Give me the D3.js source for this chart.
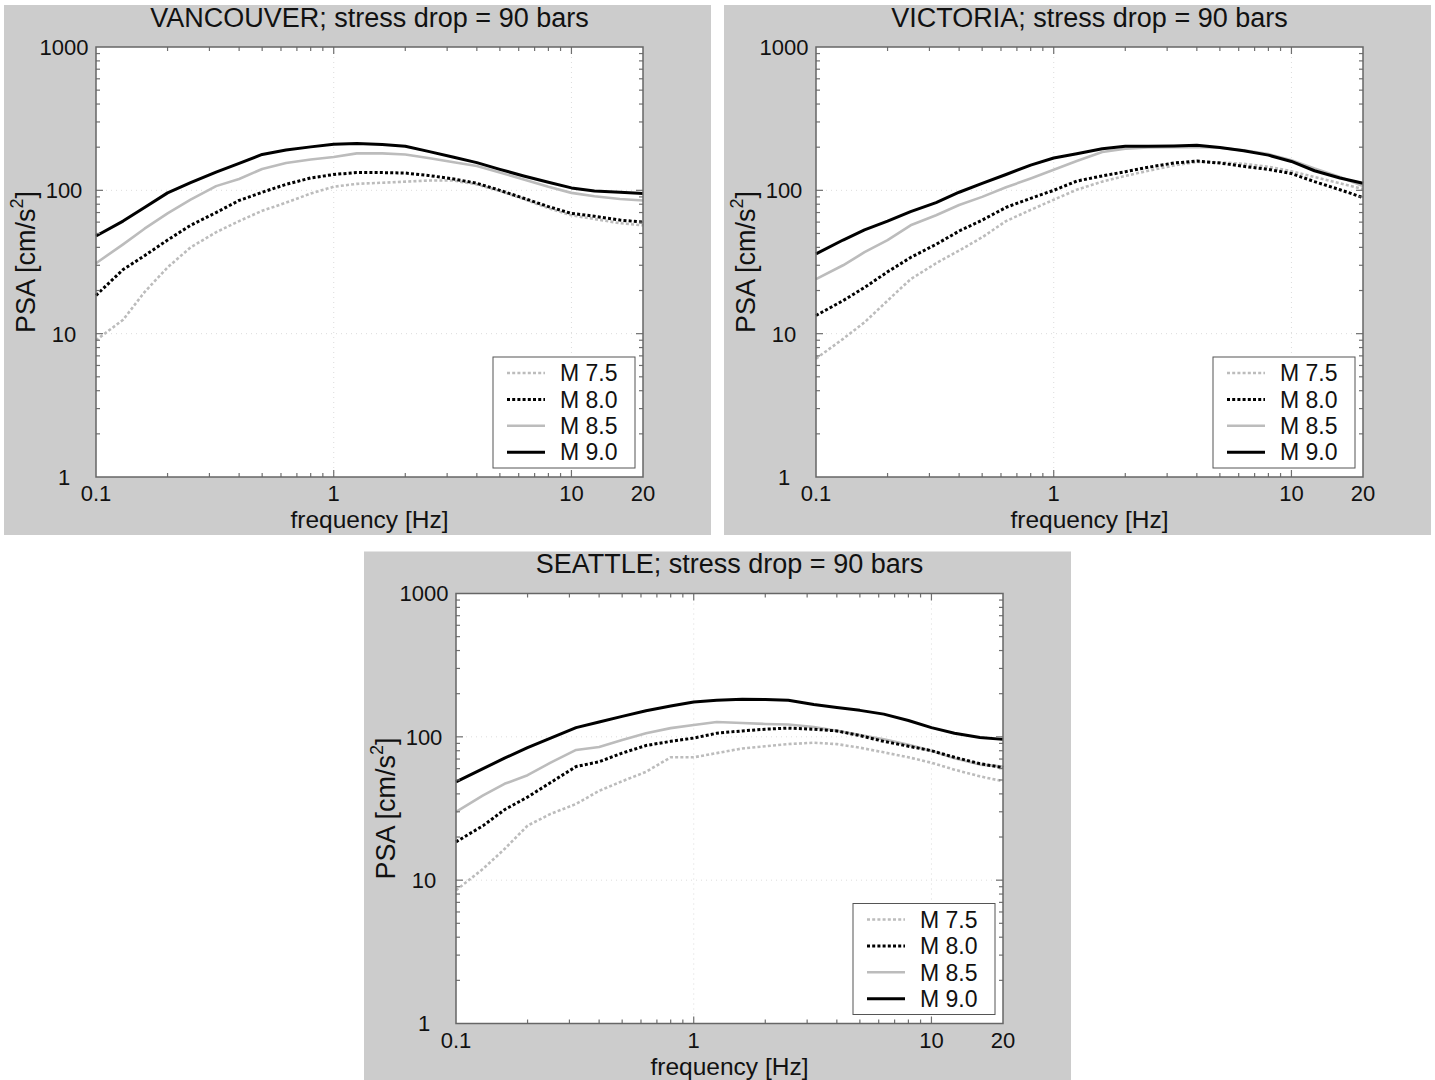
<!DOCTYPE html>
<html><head><meta charset="utf-8">
<script src="https://cdn.jsdelivr.net/npm/d3@7"></script>
<style>
html,body{margin:0;padding:0;background:#fff;}
svg{display:block;font-family:"Liberation Sans",Arial,Helvetica,sans-serif;}
</style></head><body>
<svg id="chart" width="1435" height="1080"></svg>
<script>
// Frequencies (Hz) at which the PSA spectra are sampled
const FREQ = [0.1, 0.13, 0.16, 0.2, 0.25, 0.32, 0.4, 0.5, 0.63, 0.8, 1, 1.25, 1.6, 2, 2.5, 3.2, 4, 5, 6.3, 8, 10, 12.5, 16, 20];

// PSA [cm/s^2] per station and magnitude
const vancouverM75 = [9.0, 12.5, 19.5, 29, 40, 51, 61, 72, 82, 95, 106, 111, 113, 115, 117, 117, 110, 99, 87, 75, 67, 63, 59, 57];
const vancouverM80 = [18.5, 28, 35, 45, 57, 70, 85, 97, 110, 122, 129, 133, 133, 132, 127, 120, 112, 100, 88, 77, 69, 66, 62, 60];
const vancouverM85 = [31, 42, 54, 69, 86, 107, 120, 141, 155, 164, 171, 181, 181, 178, 168, 157, 148, 133, 119, 106, 96, 91, 87, 85];
const vancouverM90 = [48, 61, 76, 96, 113, 134, 154, 178, 191, 201, 210, 212, 209, 203, 187, 170, 156, 140, 126, 114, 104, 99, 97, 95];

const victoriaM75 = [6.7, 9.2, 12, 17, 24, 31, 38, 47, 61, 73, 86, 101, 115, 126, 137, 149, 158, 157, 153, 146, 136, 124, 112, 102];
const victoriaM80 = [13.4, 17, 21, 27, 34, 42, 52, 62, 76, 88, 100, 116, 126, 135, 145, 155, 160, 155, 147, 140, 131, 115, 101, 89];
const victoriaM85 = [24, 30, 37, 45, 57, 67, 79, 90, 105, 121, 139, 160, 185, 195, 199, 200, 201, 198, 190, 179, 162, 142, 124, 107];
const victoriaM90 = [36, 45, 53, 61, 71, 82, 97, 112, 129, 150, 168, 180, 195, 203, 203, 204, 206, 199, 189, 176, 159, 137, 122, 112];

const seattleM75 = [8.5, 12, 16.5, 24, 29, 34, 42, 49, 57, 72, 72, 77, 83, 86, 89, 91, 89, 84, 78, 72, 66, 59, 53, 49];
const seattleM80 = [18.5, 24, 31, 38, 48, 62, 67, 77, 87, 93, 98, 106, 110, 113, 115, 113, 110, 102, 93, 86, 80, 72, 65, 61];
const seattleM85 = [30, 39, 47, 54, 66, 81, 85, 95, 106, 115, 121, 127, 125, 123, 122, 117, 110, 103, 96, 88, 80, 71, 64, 62];
const seattleM90 = [48.5, 60, 71, 84, 98, 116, 127, 139, 152, 164, 175, 180, 183, 182, 180, 168, 160, 153, 144, 130, 116, 106, 99, 96];

const MAGNITUDES = ["M 7.5", "M 8.0", "M 8.5", "M 9.0"];
const STATIONS = ["VANCOUVER", "VICTORIA", "SEATTLE"];
const STRESS_DROP = 90;
const X_TICKS = [0.1, 1, 10, 20];
const Y_TICKS = [1, 10, 100, 1000];

const seriesByStation = {
  VANCOUVER: [vancouverM75, vancouverM80, vancouverM85, vancouverM90],
  VICTORIA: [victoriaM75, victoriaM80, victoriaM85, victoriaM90],
  SEATTLE: [seattleM75, seattleM80, seattleM85, seattleM90]
};

// Line appearance for each magnitude
const LINE_STYLE = [
  {stroke: "#bcbcbc", width: 2.6, dash: "3,2.2"},
  {stroke: "#000000", width: 3.0, dash: "3,2.2"},
  {stroke: "#bcbcbc", width: 2.6, dash: null},
  {stroke: "#000000", width: 3.0, dash: null}
];
const DRAW_ORDER = [0, 2, 1, 3];

const PANEL_ORIGIN = [[4, 5], [724, 5], [364, 551.5]];
const PANEL_W = 707, PANEL_H = 530;
const M = {left: 92, top: 42};
const PLOT_W = 547, PLOT_H = 430;

const svg = d3.select("#chart");

STATIONS.forEach((station, si) => {
  const [ox, oy] = PANEL_ORIGIN[si];
  const panel = svg.append("g").attr("transform", `translate(${ox},${oy})`);

  panel.append("rect").attr("width", PANEL_W).attr("height", PANEL_H).attr("fill", "#cccccc");

  panel.append("text")
    .attr("x", M.left + PLOT_W / 2).attr("y", 21.5)
    .attr("text-anchor", "middle").attr("font-size", 27).attr("fill", "#111")
    .text(`${station}; stress drop = ${STRESS_DROP} bars`);

  const g = panel.append("g").attr("transform", `translate(${M.left},${M.top})`);
  const x = d3.scaleLog().domain([0.1, 20]).range([0, PLOT_W]);
  const y = d3.scaleLog().domain([1, 1000]).range([PLOT_H, 0]);

  g.append("rect").attr("width", PLOT_W).attr("height", PLOT_H).attr("fill", "#fff");

  // faint dotted grid at the decades
  const grid = g.append("g").attr("stroke", "#dcdcdc").attr("stroke-width", 1).attr("stroke-dasharray", "1,4");
  [1, 10].forEach(v => grid.append("line").attr("x1", x(v)).attr("x2", x(v)).attr("y1", 0).attr("y2", PLOT_H));
  [10, 100].forEach(v => grid.append("line").attr("x1", 0).attr("x2", PLOT_W).attr("y1", y(v)).attr("y2", y(v)));

  // spectra
  const line = d3.line().x((d, i) => x(FREQ[i])).y(d => y(d));
  DRAW_ORDER.forEach(k => {
    const st = LINE_STYLE[k];
    g.append("path").datum(seriesByStation[station][k])
      .attr("d", line).attr("fill", "none")
      .attr("stroke", st.stroke).attr("stroke-width", st.width)
      .attr("stroke-dasharray", st.dash)
      .attr("stroke-linejoin", "round");
  });

  // inward ticks on all four sides
  const ticks = g.append("g").attr("stroke", "#707070").attr("stroke-width", 1.2);
  const xMinor = [], yMinor = [];
  [0.1, 1, 10].forEach(d => { for (let m = 2; m <= 9; m++) { const v = d * m; if (v < 20) xMinor.push(v); } });
  [1, 10, 100].forEach(d => { for (let m = 2; m <= 9; m++) yMinor.push(d * m); });
  const xMajor = [1, 10], yMajor = [10, 100];
  xMinor.forEach(v => {
    ticks.append("line").attr("x1", x(v)).attr("x2", x(v)).attr("y1", PLOT_H).attr("y2", PLOT_H - 4);
    ticks.append("line").attr("x1", x(v)).attr("x2", x(v)).attr("y1", 0).attr("y2", 4);
  });
  xMajor.forEach(v => {
    ticks.append("line").attr("x1", x(v)).attr("x2", x(v)).attr("y1", PLOT_H).attr("y2", PLOT_H - 7);
    ticks.append("line").attr("x1", x(v)).attr("x2", x(v)).attr("y1", 0).attr("y2", 7);
  });
  yMinor.forEach(v => {
    ticks.append("line").attr("x1", 0).attr("x2", 4).attr("y1", y(v)).attr("y2", y(v));
    ticks.append("line").attr("x1", PLOT_W).attr("x2", PLOT_W - 4).attr("y1", y(v)).attr("y2", y(v));
  });
  yMajor.forEach(v => {
    ticks.append("line").attr("x1", 0).attr("x2", 7).attr("y1", y(v)).attr("y2", y(v));
    ticks.append("line").attr("x1", PLOT_W).attr("x2", PLOT_W - 7).attr("y1", y(v)).attr("y2", y(v));
  });

  g.append("rect").attr("width", PLOT_W).attr("height", PLOT_H)
    .attr("fill", "none").attr("stroke", "#666").attr("stroke-width", 1.5);

  // tick labels
  g.append("g").selectAll("text").data(X_TICKS).join("text")
    .attr("x", d => x(d)).attr("y", PLOT_H + 24)
    .attr("text-anchor", "middle").attr("font-size", 22).attr("fill", "#111")
    .text(d => d);
  g.append("g").selectAll("text").data(Y_TICKS).join("text")
    .attr("x", -32).attr("y", d => y(d)).attr("dy", "0.36em")
    .attr("text-anchor", "middle").attr("font-size", 22).attr("fill", "#111")
    .text(d => d);

  // axis titles
  g.append("text").attr("x", PLOT_W / 2).attr("y", PLOT_H + 51)
    .attr("text-anchor", "middle").attr("font-size", 24.5).attr("fill", "#111")
    .text("frequency [Hz]");
  const yl = g.append("text")
    .attr("transform", `translate(-61,${PLOT_H / 2}) rotate(-90)`)
    .attr("text-anchor", "middle").attr("font-size", 27).attr("fill", "#111");
  yl.append("tspan").text("PSA [cm/s");
  yl.append("tspan").attr("font-size", 18).attr("dy", -12).text("2");
  yl.append("tspan").attr("dy", 12).text("]");

  // legend
  const lg = g.append("g").attr("transform", `translate(${PLOT_W - 150},${PLOT_H - 120})`);
  lg.append("rect").attr("width", 142).attr("height", 111)
    .attr("fill", "#fff").attr("stroke", "#555").attr("stroke-width", 1);
  MAGNITUDES.forEach((mag, k) => {
    const cy = 16 + k * 26.4;
    const st = LINE_STYLE[k];
    lg.append("line").attr("x1", 14).attr("x2", 52).attr("y1", cy).attr("y2", cy)
      .attr("stroke", st.stroke).attr("stroke-width", st.width).attr("stroke-dasharray", st.dash);
    lg.append("text").attr("x", 67).attr("y", cy).attr("dy", "0.36em")
      .attr("font-size", 23).attr("fill", "#111").text(mag);
  });
});
</script>
</body></html>
